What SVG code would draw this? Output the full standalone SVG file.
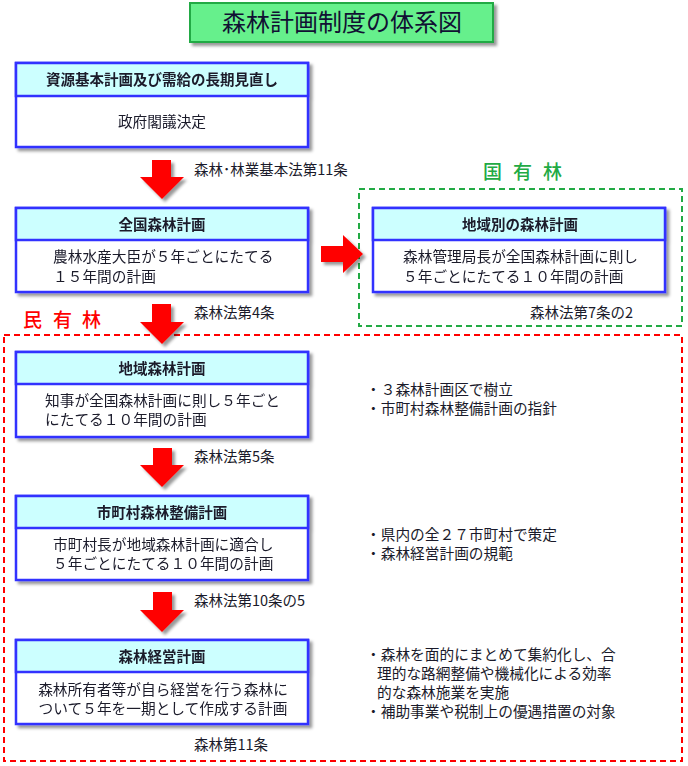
<svg xmlns="http://www.w3.org/2000/svg" width="688" height="766" viewBox="0 0 688 766">
<defs>
<filter id="sh" x="-10%" y="-10%" width="130%" height="130%">
<feDropShadow dx="3" dy="3" stdDeviation="1.5" flood-color="#000" flood-opacity="0.4"/>
</filter>
<style>
text{font-family:"Noto Sans CJK JP","Noto Sans CJK SC",sans-serif;fill:#1a1a2a}
.hd{fill:#ccffff;stroke:#3333ff;stroke-width:2.5}
.bd{fill:#ffffff;stroke:#3333ff;stroke-width:2.5}
.ht{font-size:14.5px;font-weight:bold;text-anchor:middle}
.bt{font-size:14.7px}
.lb{font-size:14.5px}
.arr{fill:#ff0000;filter:url(#sh)}
.zone{fill:none;stroke-width:2;stroke-dasharray:6,4}
</style>
</defs>
<rect width="688" height="766" fill="#ffffff"/>

<g id="title">
<rect x="190" y="3" width="303" height="39" fill="#66f08c" stroke="#22aa44" stroke-width="2" filter="url(#sh)"/>
<text x="342" y="31" font-size="24" text-anchor="middle" style="fill:#111133">森林計画制度の体系図</text>
</g>

<g id="zone-kokuyu">
<rect class="zone" x="359" y="189" width="323" height="137" stroke="#22aa44"/>
<text font-size="19" style="fill:#22aa44;font-weight:500" y="179"><tspan x="483">国</tspan><tspan x="513">有</tspan><tspan x="543">林</tspan></text>
</g>

<g id="zone-minyu">
<rect class="zone" x="4" y="335" width="678" height="426" stroke="#ff0000"/>
<text font-size="19" style="fill:#ff0000;font-weight:500" y="327"><tspan x="23">民</tspan><tspan x="53">有</tspan><tspan x="82">林</tspan></text>
</g>

<g id="connectors">
<polygon class="arr" points="152,160 171,160 171,177 184,177 162,199 140,177 152,177"/>
<polygon class="arr" points="152,304 171,304 171,322 184,322 162,344 140,322 152,322"/>
<polygon class="arr" points="153,448 172,448 172,465 184,465 162,487 140,465 153,465"/>
<polygon class="arr" points="153,592 172,592 172,610 184,610 162,632 140,610 153,610"/>
<polygon class="arr" points="321,246 343,246 343,235 363,254 343,273 343,262 321,262"/>
<text class="lb" x="194" y="175">森林･林業基本法第11条</text>
<text class="lb" x="194" y="318">森林法第4条</text>
<text class="lb" x="194" y="462">森林法第5条</text>
<text class="lb" x="194" y="606">森林法第10条の5</text>
<text class="lb" x="530" y="318">森林法第7条の2</text>
<text class="lb" x="194" y="750">森林第11条</text>
</g>

<g id="node-shigen" filter="url(#sh)">
<rect class="bd" x="16" y="63" width="292" height="84"/>
<rect class="hd" x="16" y="63" width="292" height="33"/>
<text class="ht" x="162" y="85">資源基本計画及び需給の長期見直し</text>
<text class="bt" x="162" y="127" text-anchor="middle">政府閣議決定</text>
</g>

<g id="node-zenkoku" filter="url(#sh)">
<rect class="bd" x="16" y="208" width="292" height="84"/>
<rect class="hd" x="16" y="208" width="292" height="32"/>
<text class="ht" x="162" y="230">全国森林計画</text>
<text class="bt" x="53" y="262">農林水産大臣が５年ごとにたてる</text>
<text class="bt" x="53" y="282">１５年間の計画</text>
</g>

<g id="node-chiikibetsu" filter="url(#sh)">
<rect class="bd" x="373" y="208" width="292" height="84"/>
<rect class="hd" x="373" y="208" width="292" height="32"/>
<text class="ht" x="520" y="230">地域別の森林計画</text>
<text class="bt" x="403" y="262">森林管理局長が全国森林計画に則し</text>
<text class="bt" x="403" y="282">５年ごとにたてる１０年間の計画</text>
</g>

<g id="node-chiiki" filter="url(#sh)">
<rect class="bd" x="16" y="352" width="292" height="85"/>
<rect class="hd" x="16" y="352" width="292" height="32"/>
<text class="ht" x="162" y="374">地域森林計画</text>
<text class="bt" x="45" y="406">知事が全国森林計画に則し５年ごと</text>
<text class="bt" x="45" y="425">にたてる１０年間の計画</text>
</g>

<g id="node-shichoson" filter="url(#sh)">
<rect class="bd" x="16" y="496" width="292" height="84"/>
<rect class="hd" x="16" y="496" width="292" height="32"/>
<text class="ht" x="162" y="518">市町村森林整備計画</text>
<text class="bt" x="53" y="550">市町村長が地域森林計画に適合し</text>
<text class="bt" x="53" y="569">５年ごとにたてる１０年間の計画</text>
</g>

<g id="node-keiei" filter="url(#sh)">
<rect class="bd" x="16" y="640" width="292" height="84"/>
<rect class="hd" x="16" y="640" width="292" height="32"/>
<text class="ht" x="162" y="662">森林経営計画</text>
<text class="bt" x="163" y="695" text-anchor="middle">森林所有者等が自ら経営を行う森林に</text>
<text class="bt" x="163" y="714" text-anchor="middle">ついて５年を一期として作成する計画</text>
</g>

<g id="notes">
<text class="bt" x="366" y="395">・３森林計画区で樹立</text>
<text class="bt" x="366" y="414">・市町村森林整備計画の指針</text>
<text class="bt" x="366" y="540">・県内の全２７市町村で策定</text>
<text class="bt" x="366" y="559">・森林経営計画の規範</text>
<text class="bt" x="366" y="660">・森林を面的にまとめて集約化し、合</text>
<text class="bt" x="377" y="679">理的な路網整備や機械化による効率</text>
<text class="bt" x="377" y="698">的な森林施業を実施</text>
<text class="bt" x="366" y="717">・補助事業や税制上の優遇措置の対象</text>
</g>
</svg>
